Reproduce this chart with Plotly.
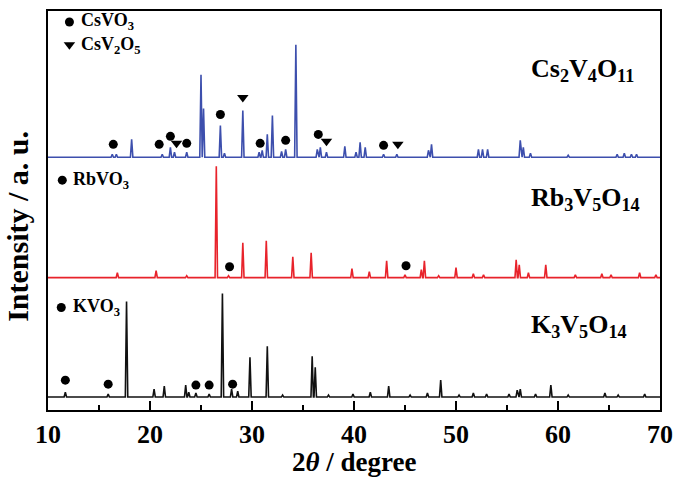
import plotly.graph_objects as go

# ---------------- data ----------------
# K3V5O14 (black) peak positions (2theta) and intensities (a.u., above baseline)
k_pos = [11.7, 15.9, 17.7, 20.4, 21.4, 23.5, 23.8, 24.5, 25.8, 27.1, 28.0, 28.6,
         29.8, 31.5, 33.0, 35.9, 36.2, 37.5, 39.9, 41.6, 43.4, 45.5, 47.2, 48.5,
         50.3, 51.7, 53.0, 55.2, 56.0, 56.3, 57.8, 59.3, 61.0, 64.6, 65.9, 68.5]
k_int = [5, 3, 96, 8, 11, 12, 5, 4, 3, 104, 8, 6,
         40, 51, 2, 41, 30, 2, 3, 5, 11, 2, 4, 17,
         2, 4, 3, 3, 7, 8, 3, 12, 2, 4, 2, 3]
k_base = 13

# Rb3V5O14 (red)
rb_pos = [16.8, 20.6, 23.6, 26.5, 27.7, 29.1, 31.4, 34.0, 35.8, 39.8, 41.5, 43.2,
          45.0, 46.6, 46.9, 48.3, 50.0, 51.7, 52.7, 55.9, 56.2, 57.1, 58.8, 61.7,
          64.3, 65.2, 68.0, 69.6]
rb_int = [5, 7, 2, 112, 2, 35, 37, 21, 25, 9, 6, 17,
          3, 8, 17, 2, 10, 4, 3, 18, 13, 5, 13, 3,
          4, 3, 5, 3]
rb_base = 133

# Cs2V4O11 (blue)
cs_pos = [16.3, 16.7, 18.2, 21.2, 22.0, 22.4, 23.6, 25.0, 25.25, 26.9, 27.3, 29.1,
          30.7, 31.0, 31.5, 32.0, 32.9, 33.3, 34.3, 36.4, 36.7, 37.3, 39.1, 40.2,
          40.6, 41.1, 42.9, 44.2, 47.3, 47.6, 52.2, 52.6, 53.1, 56.3, 56.6, 57.3,
          61.0, 65.8, 66.5, 67.2, 67.7]
cs_int = [3, 3, 18, 3, 10, 5, 5, 83, 49, 32, 4, 47,
          5, 7, 23, 42, 6, 8, 113, 8, 10, 5, 11, 5,
          15, 10, 3, 3, 7, 13, 8, 8, 8, 17, 10, 4,
          2, 3, 4, 3, 3]
cs_base = 254

# phase markers (2theta, y)
circle_x = [16.4, 20.9, 22.0, 23.6, 26.9, 30.8, 33.3, 36.5, 42.9,   # CsVO3
            27.8, 45.1,                                          # RbVO3
            11.7, 15.9, 24.5, 25.8, 28.1]                        # KVO3
circle_y = [267, 267, 275, 268, 297, 268, 271, 277, 266,
            144, 145,
            30, 26, 25, 25, 26]
tri_x = [22.6, 29.1, 37.3, 44.3]
tri_y = [268, 314, 270, 267]

# key markers
key_circle_x = [12.1, 11.4, 11.3]
key_circle_y = [390, 231, 103]
key_tri_x = [12.1]
key_tri_y = [367]

key_texts = ["CsVO<sub>3</sub>", "CsV<sub>2</sub>O<sub>5</sub>", "RbVO<sub>3</sub>", "KVO<sub>3</sub>"]
key_text_x = [13.0, 13.0, 12.3, 12.3]
key_text_y = [390, 366, 231, 103]

labels = ["Cs<sub>2</sub>V<sub>4</sub>O<sub>11</sub>",
          "Rb<sub>3</sub>V<sub>5</sub>O<sub>14</sub>",
          "K<sub>3</sub>V<sub>5</sub>O<sub>14</sub>"]
label_x = [57.2, 57.2, 57.2]
label_y = [342, 212, 84]

FONT = "Liberation Serif"


def profile(pos, inten, base, w=0.12):
    xs = [10.0]
    ys = [base]
    for p, h in sorted(zip(pos, inten)):
        xs += [p - w, p, p + w]
        ys += [base, base + h, base]
    xs.append(70.0)
    ys.append(base)
    return xs, ys


fig = go.Figure()
for pos, inten, base, color in [(k_pos, k_int, k_base, "#111111"),
                                (rb_pos, rb_int, rb_base, "#e8232b"),
                                (cs_pos, cs_int, cs_base, "#3d4fad")]:
    xs, ys = profile(pos, inten, base)
    fig.add_trace(go.Scatter(x=xs, y=ys, mode="lines",
                             line=dict(color=color, width=1.6), showlegend=False))

fig.add_trace(go.Scatter(x=circle_x + key_circle_x, y=circle_y + key_circle_y, mode="markers",
                         marker=dict(symbol="circle", size=9, color="black"), showlegend=False))
fig.add_trace(go.Scatter(x=tri_x + key_tri_x, y=tri_y + key_tri_y, mode="markers",
                         marker=dict(symbol="triangle-down", size=10, color="black"), showlegend=False))

for t, x, y in zip(key_texts, key_text_x, key_text_y):
    fig.add_annotation(x=x, y=y, text=t, showarrow=False, xanchor="left", yanchor="middle",
                       font=dict(family=FONT, size=18, color="black", weight="bold"))
for t, x, y in zip(labels, label_x, label_y):
    fig.add_annotation(x=x, y=y, text=t, showarrow=False, xanchor="left", yanchor="middle",
                       font=dict(family=FONT, size=26, color="black", weight="bold"))

fig.add_annotation(xref="paper", yref="paper", x=0.5, y=-0.17, text="2<i>θ</i> / degree",
                   showarrow=False, xanchor="center", yanchor="bottom", borderpad=0,
                   font=dict(family=FONT, size=27, color="black", weight="bold"))
fig.add_annotation(xref="paper", yref="paper", x=-0.05, y=0.46, text="Intensity / a. u.",
                   showarrow=False, xanchor="center", yanchor="middle", textangle=-90, borderpad=0,
                   font=dict(family=FONT, size=30, color="black", weight="bold"))

fig.update_layout(
    width=682, height=480,
    margin=dict(l=48, r=17, t=9, b=70),
    plot_bgcolor="white", paper_bgcolor="white",
    xaxis=dict(range=[10, 70], dtick=10, tick0=10, ticks="inside", ticklen=9, tickwidth=1.5,
               tickcolor="black",
               minor=dict(ticks="inside", dtick=5, ticklen=5, tickwidth=1.5, tickcolor="black"),
               showline=True, linewidth=2, linecolor="black", mirror=True,
               showgrid=False, zeroline=False,
               tickfont=dict(family=FONT, size=26, color="black", weight="bold")),
    yaxis=dict(range=[0, 401], showticklabels=False, ticks="",
               showline=True, linewidth=2, linecolor="black", mirror=True,
               showgrid=False, zeroline=False),
)

fig.write_html("out.html")
